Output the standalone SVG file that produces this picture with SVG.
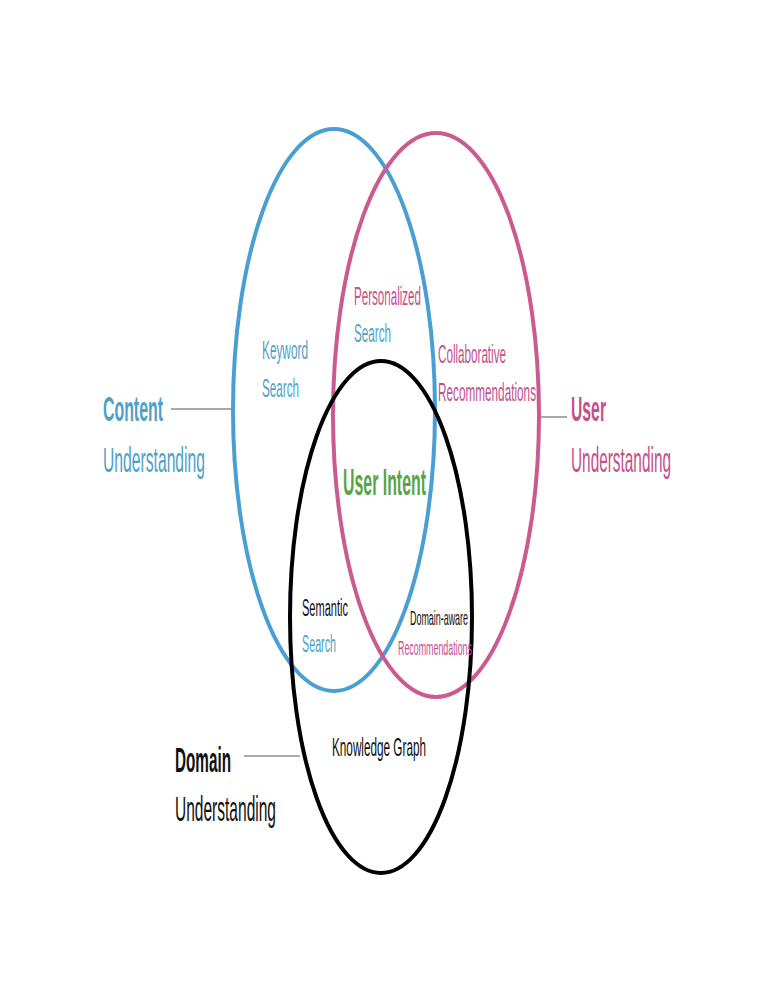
<svg xmlns="http://www.w3.org/2000/svg" width="772" height="1000" viewBox="0 0 772 1000">
<style>
text{font-family:"Liberation Sans",Arial,sans-serif;}
.ring{fill:none;stroke-width:4;}
.lead{stroke:#555;stroke-width:1;fill:none;}
.big{font-size:35px;}
.b{font-weight:bold;}
.mid{font-size:26px;}
.sm{font-size:23px;}
.blue{fill:#4f9fc9;}
.pink{fill:#c5508a;}
.blk{fill:#111;}
.green{fill:#5aa447;}
</style>
<rect width="772" height="1000" fill="#fff"/>
<g id="connectors">
<line class="lead" x1="171" y1="409" x2="233" y2="409"/>
<line class="lead" x1="540" y1="417" x2="567" y2="417"/>
<line class="lead" x1="244" y1="756" x2="300" y2="756"/>
</g>
<g id="content-circle">
<ellipse class="ring" cx="334" cy="410" rx="101" ry="281" stroke="#4a9fd2"/>
</g>
<g id="user-circle">
<ellipse class="ring" cx="436" cy="415" rx="103" ry="282" stroke="#cb5a91"/>
</g>
<g id="domain-circle">
<ellipse class="ring" cx="381" cy="617" rx="91" ry="256" stroke="#000"/>
</g>
<g id="content-label">
<text class="big b blue" transform="translate(103,421) scale(0.45,1)" textLength="133.3" lengthAdjust="spacingAndGlyphs">Content</text>
<text class="big blue" transform="translate(103,472) scale(0.45,1)" textLength="226.7" lengthAdjust="spacingAndGlyphs">Understanding</text>
</g>
<g id="user-label">
<text class="big b pink" transform="translate(571,421) scale(0.45,1)" textLength="77.8" lengthAdjust="spacingAndGlyphs">User</text>
<text class="big pink" transform="translate(571,472) scale(0.45,1)" textLength="222.2" lengthAdjust="spacingAndGlyphs">Understanding</text>
</g>
<g id="domain-label">
<text class="big b blk" transform="translate(175,772) scale(0.45,1)" textLength="124.4" lengthAdjust="spacingAndGlyphs">Domain</text>
<text class="big blk" transform="translate(175,821) scale(0.45,1)" textLength="224.4" lengthAdjust="spacingAndGlyphs">Understanding</text>
</g>
<g id="keyword-search">
<text class="mid blue" transform="translate(262,359) scale(0.45,1)" textLength="102.2" lengthAdjust="spacingAndGlyphs">Keyword</text>
<text class="mid blue" transform="translate(262,397) scale(0.45,1)" textLength="82.2" lengthAdjust="spacingAndGlyphs">Search</text>
</g>
<g id="personalized-search">
<text class="mid pink" transform="translate(354,305) scale(0.45,1)" textLength="148.9" lengthAdjust="spacingAndGlyphs">Personalized</text>
<text class="mid blue" transform="translate(354,342) scale(0.45,1)" textLength="82.2" lengthAdjust="spacingAndGlyphs">Search</text>
</g>
<g id="collaborative">
<text class="mid pink" transform="translate(438,363) scale(0.45,1)" textLength="151.1" lengthAdjust="spacingAndGlyphs">Collaborative</text>
<text class="mid pink" transform="translate(438,401) scale(0.45,1)" textLength="217.8" lengthAdjust="spacingAndGlyphs">Recommendations</text>
</g>
<g id="user-intent">
<text class="b green" font-size="37" transform="translate(343,495) scale(0.45,1)" textLength="184.4" lengthAdjust="spacingAndGlyphs">User Intent</text>
</g>
<g id="semantic-search">
<text class="sm blk" transform="translate(302,616) scale(0.45,1)" textLength="102.2" lengthAdjust="spacingAndGlyphs">Semantic</text>
<text class="sm blue" transform="translate(302,652) scale(0.45,1)" textLength="75.6" lengthAdjust="spacingAndGlyphs">Search</text>
</g>
<g id="domain-aware">
<text class="blk" font-size="21" transform="translate(410,625) scale(0.45,1)" textLength="128.9" lengthAdjust="spacingAndGlyphs">Domain-aware</text>
<text class="pink" font-size="20" transform="translate(398,655) scale(0.45,1)" textLength="164.4" lengthAdjust="spacingAndGlyphs">Recommendations</text>
</g>
<g id="knowledge-graph">
<text class="blk" font-size="26" transform="translate(332,756) scale(0.45,1)" textLength="208.9" lengthAdjust="spacingAndGlyphs">Knowledge Graph</text>
</g>
</svg>
